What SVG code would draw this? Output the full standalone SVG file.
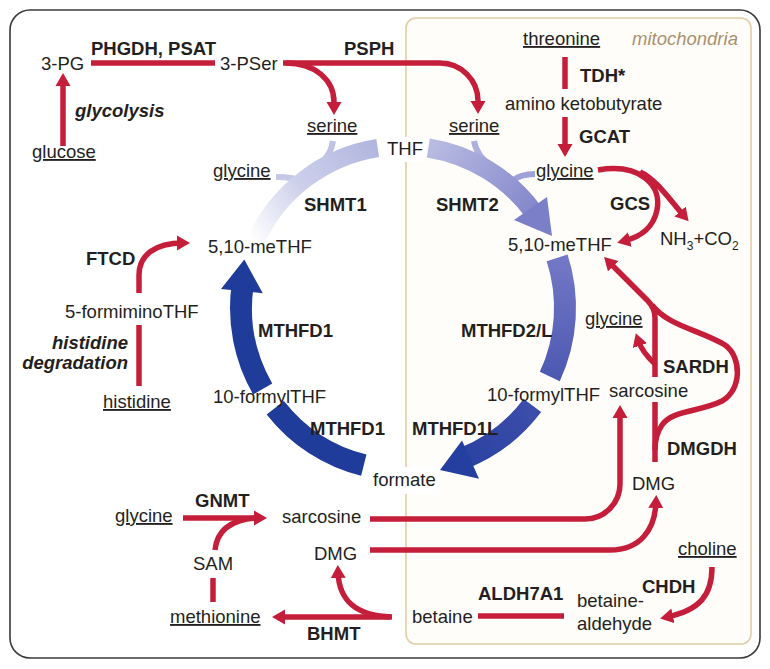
<svg xmlns="http://www.w3.org/2000/svg" width="770" height="669" viewBox="0 0 770 669">
<style>
.t{font-family:"Liberation Sans",Arial,Helvetica,sans-serif;font-size:18.5px;fill:#231f20}
.b{font-weight:bold}
.i{font-style:italic}
.u{text-decoration:underline}
.r{fill:none;stroke:#c41e3a;stroke-width:5.5}
.ra{fill:none;stroke:#c41e3a;stroke-width:5.5;marker-end:url(#ar)}
.bl{fill:none;stroke-linecap:butt}
</style>
<defs>
<marker id="ar" markerUnits="userSpaceOnUse" markerWidth="14" markerHeight="16" viewBox="0 0 14 16" refX="6" refY="8" orient="auto">
<path d="M0,0.5 L13,8 L0,15.5 z" fill="#c41e3a"/>
</marker>
<linearGradient id="gS1" gradientUnits="userSpaceOnUse" x1="378" y1="148" x2="252" y2="240">
<stop offset="0" stop-color="#b2b6df"/><stop offset="0.55" stop-color="#cdd0eb"/><stop offset="1" stop-color="#ffffff"/>
</linearGradient>
<linearGradient id="gS2" gradientUnits="userSpaceOnUse" x1="428" y1="148" x2="545" y2="228">
<stop offset="0" stop-color="#b9bce2"/><stop offset="1" stop-color="#7b7fc8"/>
</linearGradient>
<linearGradient id="gM2" gradientUnits="userSpaceOnUse" x1="557" y1="258" x2="547" y2="382">
<stop offset="0" stop-color="#7478c6"/><stop offset="1" stop-color="#4a58b1"/>
</linearGradient>
<linearGradient id="gM1L" gradientUnits="userSpaceOnUse" x1="532" y1="405" x2="440" y2="470">
<stop offset="0" stop-color="#3d4dab"/><stop offset="1" stop-color="#243f9f"/>
</linearGradient>
</defs>

<g id="frame">
<rect x="10" y="10" width="750" height="648" rx="20" fill="#ffffff" stroke="#3a3a3a" stroke-width="1.6"/>
</g>
<g id="mitochondria">
<rect x="406" y="18" width="345" height="626" rx="10" fill="#fffdf9" stroke="#e2cda5" stroke-width="1.6"/>
<rect x="384" y="137" width="42" height="25" fill="#ffffff"/>
<rect x="370" y="467" width="70" height="27" fill="#ffffff"/>
<text class="t i" x="632" y="45" style="fill:#a8916f">mitochondria</text>
</g>

<g id="connectors">
<path class="bl" d="M333,141 Q331,155 320,164" stroke="#bfc2e4" stroke-width="6"/>
<path class="bl" d="M276,177 C288,177 296,178 304,182" stroke="#c4c7e6" stroke-width="6"/>
<path class="bl" d="M474,141 Q477,157 492,166" stroke="#aeb1dd" stroke-width="6"/>
<path class="bl" d="M535,174 C525,174 518,176 512,181" stroke="#9ea1d7" stroke-width="6"/>
<path class="bl" d="M377.7,148 A162,162 0 0 0 256.2,239.5" stroke="url(#gS1)" stroke-width="18"/>
<path class="bl" d="M428.3,148 A162,162 0 0 1 534.1,212.8" stroke="url(#gS2)" stroke-width="19"/>
<polygon points="514,220 547,197 552,236" fill="#7b7fc8"/>
<path class="bl" d="M557.1,257.9 A162,162 0 0 1 549.8,376.5" stroke="url(#gM2)" stroke-width="22"/>
<path class="bl" d="M532.4,405.5 A162,162 0 0 1 463.7,458.2" stroke="url(#gM1L)" stroke-width="22"/>
<polygon points="462,440.4 479,478.8 440,470" fill="#243f9f"/>
<path class="bl" d="M363.8,465.2 A162,162 0 0 1 275.3,407.7" stroke="#203c9b" stroke-width="22"/>
<path class="bl" d="M262.7,389 A162,162 0 0 1 242.6,285.4" stroke="#203c9b" stroke-width="22"/>
<polygon points="221,288.9 262.8,293.3 244.3,259.5" fill="#203c9b"/>
<path class="r" d="M91,63 H215"/>
<path class="ra" d="M63,146 V80"/>
<path class="ra" d="M283,63 H440 A38,38 0 0 1 478,101 V107"/>
<path class="ra" d="M286,63 C315,63 334,80 334,102 V108"/>
<path class="r" d="M565,57 V89"/>
<path class="ra" d="M565,117 V150"/>
<path class="ra" d="M598,170 C640,163 662,185 657,210 C653,229 640,237 624,241"/>
<path class="ra" d="M640,172 C655,178 670,200 684,216"/>
<path class="ra" d="M655,377 V318 Q655,308 648,301 L609,262"/>
<path class="ra" d="M655,364 Q642,352 638,340"/>
<path class="r" d="M652,305 C668,326 700,330 725,345 C742,357 742,390 722,401 C700,412 672,410 662,425 C657,432 655,440 655,450"/>
<path class="r" d="M655,462 V402"/>
<path class="ra" d="M370,519 H585 A35,35 0 0 0 620,484 V412"/>
<path class="ra" d="M370,550 H610 C640,550 655,530 656,502"/>
<path class="ra" d="M712,567 C712,595 700,610 667,617"/>
<path class="r" d="M478,616 H564"/>
<path class="ra" d="M390,617 H279"/>
<path class="ra" d="M392,617 C355,616 339,600 338,572"/>
<path class="r" d="M213,578 V602"/>
<path class="ra" d="M183,518 H260"/>
<path class="r" d="M215,550 C217,530 232,520 255,518"/>
<path class="ra" d="M139,293 V275 C139,255 155,243 183,243"/>
<path class="r" d="M139,325 V386"/>
</g>

<g id="n-3PG"><text class="t" x="41" y="70">3-PG</text></g>
<g id="e-PHGDH"><text class="t b" x="91" y="55">PHGDH, PSAT</text></g>
<g id="n-3PSer"><text class="t" x="220" y="70">3-PSer</text></g>
<g id="e-PSPH"><text class="t b" x="344" y="55">PSPH</text></g>
<g id="n-glucose"><text class="t u" x="32" y="158">glucose</text></g>
<g id="e-glycolysis"><text class="t b i" x="75" y="117">glycolysis</text></g>
<g id="n-serine-c"><text class="t u" x="307" y="132">serine</text></g>
<g id="n-serine-m"><text class="t u" x="449" y="132">serine</text></g>
<g id="n-THF"><text class="t" x="387" y="155">THF</text></g>
<g id="n-threonine"><text class="t u" x="523" y="45">threonine</text></g>
<g id="e-TDH"><text class="t b" x="580" y="82">TDH*</text></g>
<g id="n-akb"><text class="t" x="505" y="110">amino ketobutyrate</text></g>
<g id="e-GCAT"><text class="t b" x="579" y="143">GCAT</text></g>
<g id="n-glycine-c"><text class="t u" x="213" y="177">glycine</text></g>
<g id="n-glycine-m"><text class="t u" x="536" y="177">glycine</text></g>
<g id="e-SHMT1"><text class="t b" x="304" y="211">SHMT1</text></g>
<g id="e-SHMT2"><text class="t b" x="436" y="211">SHMT2</text></g>
<g id="e-GCS"><text class="t b" x="610" y="210">GCS</text></g>
<g id="n-nh3co2"><text class="t" x="660" y="245">NH<tspan font-size="12" dy="5">3</tspan><tspan dy="-5">+CO</tspan><tspan font-size="12" dy="5">2</tspan></text></g>
<g id="n-meTHF-c"><text class="t" x="208" y="253">5,10-meTHF</text></g>
<g id="n-meTHF-m"><text class="t" x="508" y="251">5,10-meTHF</text></g>
<g id="e-FTCD"><text class="t b" x="86" y="265">FTCD</text></g>
<g id="n-formimino"><text class="t" x="65" y="318">5-formiminoTHF</text></g>
<g id="e-histdeg"><text class="t b i" x="128" y="349" text-anchor="end">histidine</text><text class="t b i" x="128" y="369" text-anchor="end">degradation</text></g>
<g id="n-histidine"><text class="t u" x="103" y="408">histidine</text></g>
<g id="e-MTHFD1a"><text class="t b" x="258" y="337">MTHFD1</text></g>
<g id="e-MTHFD2L"><text class="t b" x="461" y="337">MTHFD2/L</text></g>
<g id="n-formyl-c"><text class="t" x="213" y="403">10-formylTHF</text></g>
<g id="n-formyl-m"><text class="t" x="487" y="401">10-formylTHF</text></g>
<g id="e-MTHFD1b"><text class="t b" x="310" y="435">MTHFD1</text></g>
<g id="e-MTHFD1L"><text class="t b" x="412" y="435">MTHFD1L</text></g>
<g id="n-formate"><text class="t" x="373" y="486">formate</text></g>
<g id="n-glycine-m2"><text class="t u" x="585" y="325">glycine</text></g>
<g id="e-SARDH"><text class="t b" x="663" y="373">SARDH</text></g>
<g id="n-sarcosine-m"><text class="t" x="609" y="397">sarcosine</text></g>
<g id="e-DMGDH"><text class="t b" x="667" y="455">DMGDH</text></g>
<g id="n-DMG-m"><text class="t" x="632" y="490">DMG</text></g>
<g id="e-GNMT"><text class="t b" x="195" y="507">GNMT</text></g>
<g id="n-glycine-c2"><text class="t u" x="115" y="522">glycine</text></g>
<g id="n-sarcosine-c"><text class="t" x="282" y="523">sarcosine</text></g>
<g id="n-DMG-c"><text class="t" x="314" y="560">DMG</text></g>
<g id="n-SAM"><text class="t" x="193" y="570">SAM</text></g>
<g id="n-methionine"><text class="t u" x="170" y="623">methionine</text></g>
<g id="e-BHMT"><text class="t b" x="307" y="640">BHMT</text></g>
<g id="n-betaine"><text class="t" x="412" y="623">betaine</text></g>
<g id="e-ALDH7A1"><text class="t b" x="478" y="600">ALDH7A1</text></g>
<g id="n-betald"><text class="t" x="577" y="607">betaine-</text><text class="t" x="577" y="630">aldehyde</text></g>
<g id="e-CHDH"><text class="t b" x="642" y="593">CHDH</text></g>
<g id="n-choline"><text class="t u" x="678" y="555">choline</text></g>
</svg>
